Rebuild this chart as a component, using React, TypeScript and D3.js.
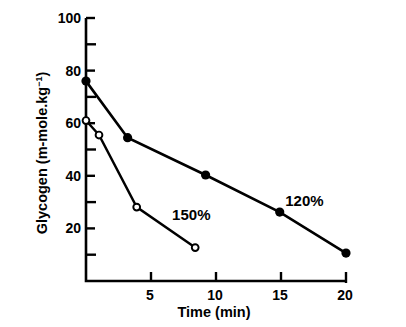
import React from "react";
import * as d3 from "d3";

const series120Time = [0, 3.2, 9.2, 14.9, 20];
const series120Glycogen = [76, 54.5, 40.3, 26.2, 10.6];
const series150Time = [0, 1.0, 3.9, 8.4];
const series150Glycogen = [61, 55.5, 28.1, 12.7];
const yTickValues = [10, 20, 30, 40, 50, 60, 70, 80, 90, 100];
const yTickLabels = [20, 40, 60, 80, 100];
const xTickValues = [5, 10, 15, 20];
const seriesLabels = [
  { text: "120%", t: 16.8, v: 28.6 },
  { text: "150%", t: 8.1, v: 23.3 },
];

const W = 406;
const H = 327;
const font = "'Liberation Sans', Arial, sans-serif";

export default function App() {
  const x = d3.scaleLinear().domain([0, 20]).range([86, 346]);
  const y = d3.scaleLinear().domain([0, 100]).range([281, 18]);
  const line = d3
    .line<[number, number]>()
    .x((d) => x(d[0]))
    .y((d) => y(d[1]));
  const s120: [number, number][] = series120Time.map((t, i) => [t, series120Glycogen[i]]);
  const s150: [number, number][] = series150Time.map((t, i) => [t, series150Glycogen[i]]);
  const x0 = x(0);
  const y0 = y(0);
  const tickLen = 9;

  return (
    <svg
      width={W}
      height={H}
      viewBox={`0 0 ${W} ${H}`}
      style={{ position: "absolute", left: 0, top: 0, background: "#fff" }}
    >
      <rect x={0} y={0} width={W} height={H} fill="#fff" />
      {/* axes */}
      <path
        d={`M${x0},${y(100)}V${y0}H${x(20)}`}
        fill="none"
        stroke="#000"
        strokeWidth={2.6}
      />
      {yTickValues.map((v) => (
        <line key={"yt" + v} x1={x0} x2={x0 + tickLen + (v % 20 === 0 ? 0 : 1)} y1={y(v)} y2={y(v)} stroke="#000" strokeWidth={2.4} />
      ))}
      {yTickLabels.map((v) => (
        <text
          key={"yl" + v}
          x={81}
          y={y(v)}
          dy="0.36em"
          textAnchor="end"
          fontFamily={font}
          fontWeight="bold"
          fontSize={14}
        >
          {v}
        </text>
      ))}
      {xTickValues.map((v) => (
        <line key={"xt" + v} x1={x(v)} x2={x(v)} y1={y0 - tickLen} y2={v === 20 ? y0 + 2 : y0} stroke="#000" strokeWidth={2.4} />
      ))}
      {xTickValues.map((v) => (
        <text
          key={"xl" + v}
          x={x(v) - 1}
          y={300}
          textAnchor="middle"
          fontFamily={font}
          fontWeight="bold"
          fontSize={14}
        >
          {v}
        </text>
      ))}
      <text x={214} y={317} textAnchor="middle" fontFamily={font} fontWeight="bold" fontSize={14.5}>
        Time (min)
      </text>
      <text
        transform={`translate(47,153) rotate(-90)`}
        textAnchor="middle"
        fontFamily={font}
        fontWeight="bold"
        fontSize={14.5}
      >
        Glycogen (m-mole.kg
        <tspan fontSize={9} dy={-5}>−1</tspan>
        <tspan dy={5}>)</tspan>
      </text>
      {/* lines */}
      <path d={line(s120) || ""} fill="none" stroke="#000" strokeWidth={2.6} />
      <path d={line(s150) || ""} fill="none" stroke="#000" strokeWidth={2.4} />
      {s120.map((d, i) => (
        <circle key={"f" + i} cx={x(d[0])} cy={y(d[1])} r={4.6} fill="#000" />
      ))}
      {s150.map((d, i) => (
        <circle key={"o" + i} cx={x(d[0])} cy={y(d[1])} r={3.4} fill="#fff" stroke="#000" strokeWidth={1.9} />
      ))}
      {seriesLabels.map((l) => (
        <text
          key={l.text}
          x={x(l.t)}
          y={y(l.v)}
          textAnchor="middle"
          fontFamily={font}
          fontWeight="bold"
          fontSize={15}
        >
          {l.text}
        </text>
      ))}
    </svg>
  );
}
